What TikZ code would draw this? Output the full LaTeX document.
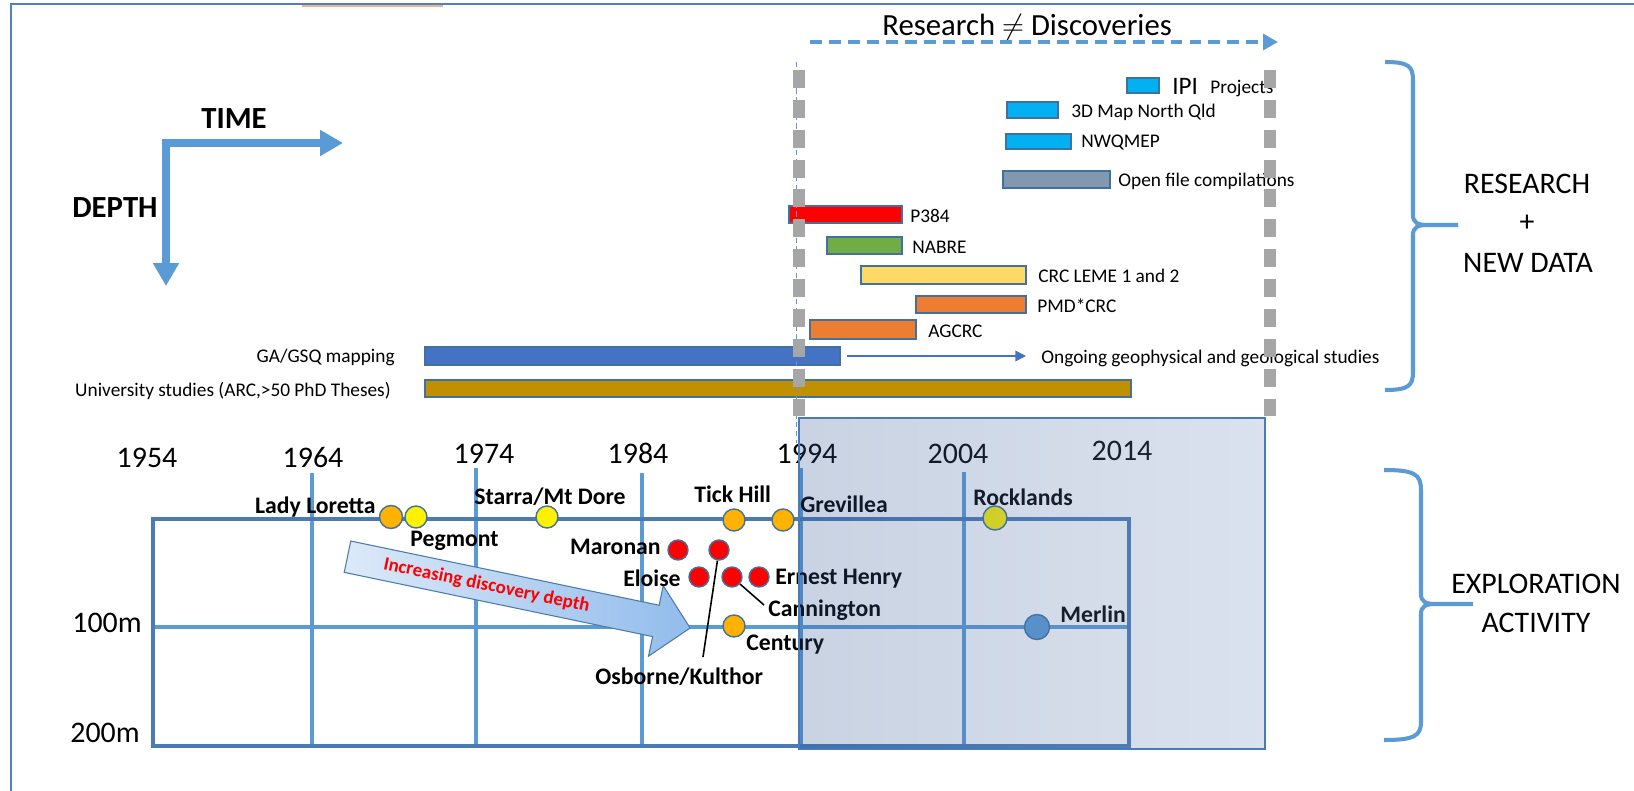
\documentclass[tikz,border=0pt]{standalone}
\usepackage{fontspec}
\setmainfont{Carlito}
\usepackage{tikz}
\usetikzlibrary{arrows.meta}
\definecolor{lineblue}{HTML}{5B9BD5}
\definecolor{boxblue}{HTML}{4A7BB7}
\definecolor{edgeblue}{HTML}{41719C}
\definecolor{frameblue}{HTML}{4F81BD}
\definecolor{cyanbar}{HTML}{00B0F0}
\definecolor{slatebar}{HTML}{8497B0}
\definecolor{greenbar}{HTML}{70AD47}
\definecolor{sandbar}{HTML}{FFD966}
\definecolor{orangebar}{HTML}{ED7D31}
\definecolor{mapbar}{HTML}{4472C4}
\definecolor{goldbar}{HTML}{BF9000}
\definecolor{siteorange}{HTML}{FFB300}
\definecolor{dashgray}{HTML}{A6A6A6}
\definecolor{veilL}{RGB}{47,86,147}
\definecolor{veilR}{RGB}{117,143,193}
\definecolor{arrowL}{HTML}{DDE9F8}
\definecolor{arrowR}{HTML}{92BCEC}

\begin{document}
\begin{tikzpicture}[x=0.02cm,y=-0.02cm,
  bar/.style={draw=edgeblue,line width=0.6pt},
  barlbl/.style={anchor=west,inner sep=0pt,font=\fontsize{11}{13}\selectfont},
  site/.style={circle,draw=edgeblue,line width=0.8pt,minimum size=0.44cm,inner sep=0pt},
  hole/.style={site,fill=red,minimum size=0.4cm},
  sitelbl/.style={inner sep=0pt,font=\bfseries\fontsize{13.5}{15}\selectfont},
  yearlbl/.style={anchor=base,inner sep=0pt,font=\fontsize{17}{19}\selectfont},
  caps/.style={anchor=base,inner sep=0pt,font=\fontsize{17}{19}\selectfont},
  axislbl/.style={anchor=base west,inner sep=0pt,font=\bfseries\fontsize{17.5}{19}\selectfont},
  grid/.style={lineblue,line width=2pt},
  leader/.style={black,line width=0.9pt},
  gapdash/.style={dashgray,line width=7.2pt,dash pattern=on 10.2pt off 6.8pt},
  curly/.style={lineblue,line width=2.3pt}]
\fill[white] (0,0) rectangle (1634,791);
\useasboundingbox (0,0) rectangle (1634,791);
\draw[frameblue,line width=1.2pt] (11,791) -- (11,4) -- (1634,4);
\draw[orangebar!60!white,line width=1.2pt] (302,6) -- (443,6);

\coordinate (corner) at (166,143);
\coordinate (timeEnd) at (343,143);
\coordinate (depthEnd) at (166,286);
\draw[lineblue,line width=4.8pt,{Triangle[length=13pt,width=14pt]}-{Triangle[length=13pt,width=14pt]}] (depthEnd) -- (corner) -- (timeEnd);
\node[axislbl] (time) at (201,128) {TIME};
\node[axislbl] (depth) at (72,217) {DEPTH};

\node[anchor=base west,inner sep=0pt,font=\fontsize{17.5}{19}\selectfont] (rsd) at (882,35) {Research $\neq$ Discoveries};
\coordinate (rdStart) at (810,42);
\coordinate (rdEnd) at (1278,42);
\draw[lineblue,line width=2.3pt,dash pattern=on 6.8pt off 4pt,-{Triangle[length=8.5pt,width=9pt]}] (rdStart) -- (rdEnd);

\draw[bar,fill=cyanbar] (1127,78) rectangle (1159,93);
\node[barlbl,font=\fontsize{14.3}{16}\selectfont] (ipi) at (1172,86) {IPI};
\node[barlbl] (projects) at (1210,89) {Projects};
\draw[bar,fill=cyanbar] (1007,102) rectangle (1058,118);
\node[barlbl] (map3d) at (1071,112) {3D Map North Qld};
\draw[bar,fill=cyanbar] (1006,134) rectangle (1071,149);
\node[barlbl] (nwq) at (1081,143) {NWQMEP};
\draw[bar,fill=slatebar] (1003,171) rectangle (1110,188);
\node[barlbl] (openfile) at (1118,181) {Open file compilations};
\draw[bar,fill=red] (789,206) rectangle (902,223);
\node[barlbl] (p384) at (910,216) {P384};
\draw[bar,fill=greenbar] (827,237) rectangle (902,254);
\node[barlbl] (nabre) at (912,247) {NABRE};
\draw[bar,fill=sandbar] (861,266) rectangle (1026,284);
\node[barlbl] (leme) at (1038,276) {CRC LEME 1 and 2};
\draw[bar,fill=orangebar] (916,296) rectangle (1026,313);
\node[barlbl] (pmd) at (1037,306) {PMD*CRC};
\draw[bar,fill=orangebar] (810,320) rectangle (916,339);
\node[barlbl] (agcrc) at (928,331) {AGCRC};
\draw[bar,fill=mapbar] (425,347) rectangle (840,365);
\node[barlbl,anchor=east] (gagsq) at (395,357) {GA/GSQ mapping};
\coordinate (ongoingStart) at (847,356);
\coordinate (ongoingEnd) at (1026,356);
\draw[mapbar,line width=0.9pt,-{Triangle[length=6pt,width=6pt]}] (ongoingStart) -- (ongoingEnd);
\node[barlbl] (ongoing) at (1041,358) {Ongoing geophysical and geological studies};
\draw[bar,fill=goldbar] (425,380) rectangle (1131,397);
\node[barlbl,anchor=east] (univ) at (391,391) {University studies (ARC,>50 PhD Theses)};

\coordinate (resTop) at (1385,62);
\coordinate (resBot) at (1385,390);
\draw[curly] (resTop) .. controls (1408,62) and (1413,66) .. (1413,80) -- (1413,215) .. controls (1413,223) and (1418,225) .. (1428,225) -- (1458,225);
\draw[curly] (1428,225) .. controls (1418,225) and (1413,227) .. (1413,235) -- (1413,372) .. controls (1413,386) and (1408,390) .. (resBot);
\node[caps] (research) at (1527,193) {RESEARCH};
\node[caps] (plus) at (1527,231) {+};
\node[caps] (newdata) at (1528,272) {NEW DATA};

\coordinate (expTop) at (1384,470);
\coordinate (expBot) at (1384,740);
\draw[curly] (expTop) .. controls (1414,470) and (1421,474) .. (1421,490) -- (1421,594) .. controls (1421,602) and (1426,604) .. (1436,604) -- (1473,604);
\draw[curly] (1436,604) .. controls (1426,604) and (1421,606) .. (1421,614) -- (1421,722) .. controls (1421,736) and (1414,740) .. (expBot);
\node[caps] (explor) at (1536,593) {EXPLORATION};
\node[caps] (activity) at (1536,632) {ACTIVITY};

\draw[grid] (312,473) -- (312,746);
\draw[grid] (476,468) -- (476,746);
\draw[grid] (642,473) -- (642,746);
\draw[grid] (801,468) -- (801,746);
\draw[grid] (964,472) -- (964,746);
\draw[grid,line width=2.3pt] (153,627) -- (1129,627);
\draw[boxblue,line width=2.4pt] (153,519) rectangle (1129,746);

\node[yearlbl] (y1954) at (147,467) {1954};
\node[yearlbl] (y1964) at (313,467) {1964};
\node[yearlbl] (y1974) at (484,463) {1974};
\node[yearlbl] (y1984) at (638,463) {1984};
\node[yearlbl] (y1994) at (807,463) {1994};
\node[yearlbl] (y2004) at (958,463) {2004};
\node[yearlbl] (y2014) at (1122,460) {2014};
\node[yearlbl] (d100) at (107,632) {100m};
\node[yearlbl] (d200) at (105,742) {200m};

\begin{scope}[shift={(347.5,556.7)},rotate=-11.76]
\draw[draw=lineblue!80!black,line width=0.6pt,left color=arrowL,right color=arrowR] (0,-16) -- (315,-16) -- (315,-36) -- (350,0) -- (315,36) -- (315,16) -- (0,16) -- cycle;
\node[red,inner sep=0pt,rotate=-11.76,font=\bfseries\fontsize{10.8}{12}\selectfont] (depthtxt) at (142,0) {Increasing discovery depth};
\end{scope}

\node[site,fill=siteorange,minimum size=0.46cm] (lady) at (391,517) {};
\node[site,fill=yellow] (pegmont) at (416,517) {};
\node[site,fill=yellow] (starra) at (547,517) {};
\node[site,fill=siteorange] (tick) at (734,520) {};
\node[site,fill=siteorange] (grev) at (783,520) {};
\node[site,fill=yellow,minimum size=0.48cm] (rock) at (995,518) {};
\node[hole] (maronan) at (678,550) {};
\node[hole] (osb) at (719,550) {};
\node[hole] (eloise) at (699,577) {};
\node[hole] (cann) at (732,577) {};
\node[hole] (ernest) at (759,577) {};
\node[site,fill=siteorange] (century) at (734,626) {};
\node[site,fill=lineblue,minimum size=0.5cm] (merlin) at (1037,627) {};
\coordinate (osbEnd) at (703,657);
\coordinate (cannEnd) at (764,605);
\draw[leader] (osb) -- (osbEnd);
\draw[leader] (cann) -- (cannEnd);

\node[sitelbl,anchor=base east] (ladyL) at (376,513) {Lady Loretta};
\node[sitelbl,anchor=base west] (pegmontL) at (410,546) {Pegmont};
\node[sitelbl,anchor=base west] (starraL) at (474,504) {Starra/Mt Dore};
\node[sitelbl,anchor=base west] (tickL) at (694,502) {Tick Hill};
\node[sitelbl,anchor=base west] (grevL) at (800,512) {Grevillea};
\node[sitelbl,anchor=base west] (rockL) at (973,505) {Rocklands};
\node[sitelbl,anchor=base east] (maronanL) at (661,554) {Maronan};
\node[sitelbl,anchor=base east] (eloiseL) at (681,586) {Eloise};
\node[sitelbl,anchor=base west] (ernestL) at (775,584) {Ernest Henry};
\node[sitelbl,anchor=base west] (cannL) at (768,616) {Cannington};
\node[sitelbl,anchor=base west] (centuryL) at (746,650) {Century};
\node[sitelbl,anchor=base west] (merlinL) at (1060,622) {Merlin};
\node[sitelbl,anchor=base west] (osbL) at (595,684) {Osborne/Kulthor};

\path[left color=veilL,right color=veilR,fill opacity=0.26] (799,418) rectangle (1265,749);
\draw[boxblue,line width=0.7pt] (799,418) rectangle (1265,749);

\draw[lineblue,line width=0.5pt,dash pattern=on 3pt off 2pt] (796,62) -- (796,443);
\draw[gapdash] (799,70) -- (799,418);
\draw[gapdash] (1270,70) -- (1270,418);
\end{tikzpicture}
\end{document}
